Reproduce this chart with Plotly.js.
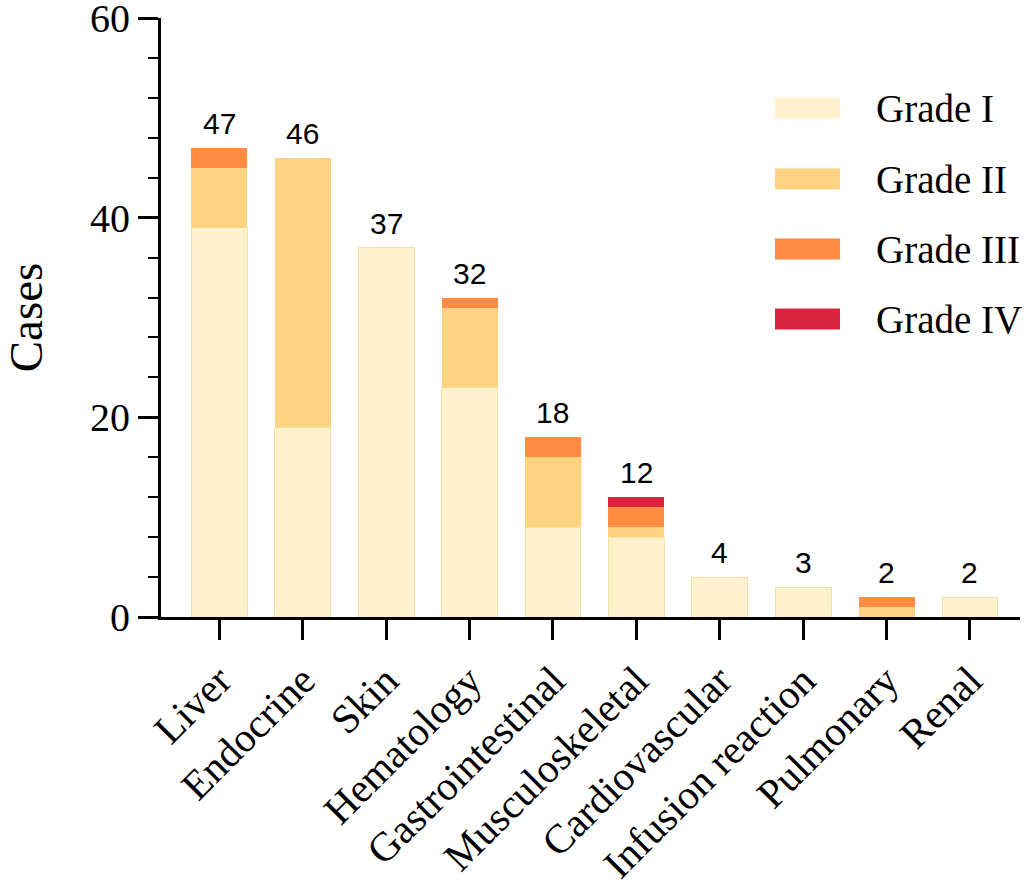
<!DOCTYPE html>
<html><head><meta charset="utf-8">
<script src="https://cdn.plot.ly/plotly-3.0.1.min.js"></script>
<style>body{margin:0;background:#fff}#c{width:1030px;height:889px}</style>
</head><body><div id="c"></div>
<script>
const categories = ["Liver","Endocrine","Skin","Hematology","Gastrointestinal","Musculoskeletal","Cardiovascular","Infusion reaction","Pulmonary","Renal"];
const gradeI   = [39,19,37,23,9,8,4,3,0,2];
const gradeII  = [6,27,0,8,7,1,0,0,1,0];
const gradeIII = [2,0,0,1,2,2,0,0,1,0];
const gradeIV  = [0,0,0,0,0,1,0,0,0,0];
const totals   = [47,46,37,32,18,12,4,3,2,2];
const seriesNames = ["Grade I","Grade II","Grade III","Grade IV"];
const colors = ["#FFF2CC","#FFD37F","#FF8C42","#D7263D"];
const lineColors = ["#F6E0A6","#FFD37F","#FF8C42","#D7263D"];
const yTicks = [0,20,40,60];

const serif = 'Liberation Serif, Times New Roman, serif';
const series = [gradeI, gradeII, gradeIII, gradeIV];
const traces = series.map((vals,i)=>({
  type:'bar', x:categories, y:vals, name:seriesNames[i],
  marker:{color:colors[i], line:{color:lineColors[i], width:i===0?1:0}},
  width:0.67, showlegend:false, hoverinfo:'skip'
}));

const annotations = categories.map((c,i)=>({
  x:c, y:totals[i], xref:'x', yref:'y', text:String(totals[i]),
  showarrow:false, yanchor:'bottom', yshift:6,
  font:{family:'Liberation Sans, Arial, sans-serif', size:30, color:'#000'}
}));

// custom legend
const shapes = [];
const plotW = 1030-161-10;
const legX0 = (775-161)/plotW, legX1 = (840-161)/plotW;
const legTxtX = (874-161)/plotW;
const legCenterPx = [108, 179, 249, 319];
seriesNames.forEach((n,i)=>{
  const yc = 1 - (legCenterPx[i]-18)/599;
  const h = 21/599;
  shapes.push({type:'rect', xref:'paper', yref:'paper', x0:legX0, x1:legX1, y0:yc-h/2, y1:yc+h/2, fillcolor:colors[i], line:{width:0}});
  annotations.push({xref:'paper', yref:'paper', x:legTxtX, y:yc, xanchor:'left', yanchor:'middle', showarrow:false, text:n,
    font:{family:serif, size:39, color:'#000'}});
});

const layout = {
  width:1030, height:889,
  margin:{l:161, r:10, t:18, b:272},
  barmode:'stack',
  paper_bgcolor:'#fff', plot_bgcolor:'#fff',
  showlegend:false,
  xaxis:{
    range:[-0.7,9.6], tickangle:-45, showline:true, linecolor:'#000', linewidth:3,
    ticks:'outside', ticklen:20, tickwidth:3, tickcolor:'#000', showgrid:false, zeroline:false,
    automargin:false,
    tickfont:{family:serif, size:41, color:'#000'}
  },
  yaxis:{
    range:[0,60.001], tickvals:yTicks, showline:true, linecolor:'#000', linewidth:3,
    ticks:'outside', ticklen:20, tickwidth:3, tickcolor:'#000', showgrid:false, zeroline:false,
    automargin:false, ticklabeloverflow:'allow',
    tickfont:{family:serif, size:40, color:'#000'},
    minor:{dtick:4, ticks:'outside', ticklen:10, tickwidth:2, tickcolor:'#000', showgrid:false},
    title:{text:'Cases', standoff:36, font:{family:serif, size:47, color:'#000'}}
  },
  shapes:shapes, annotations:annotations
};
Plotly.newPlot('c', traces, layout, {displayModeBar:false, staticPlot:true});
</script></body></html>
